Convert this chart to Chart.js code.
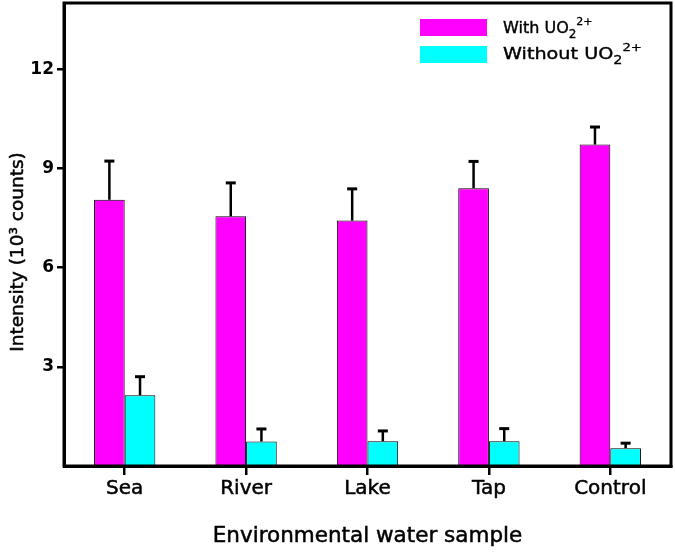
<!DOCTYPE html>
<html><head><meta charset="utf-8">
<script src="https://cdn.jsdelivr.net/npm/chart.js@4"></script>
<style>html,body{margin:0;padding:0;background:#fff}#wrap{width:675px;height:552px}</style>
</head><body><div id="wrap"><canvas id="c" width="675" height="552"></canvas></div>
<script>
const categories = ['Sea', 'River', 'Lake', 'Tap', 'Control'];
const withUO2 = [8.05, 7.55, 7.42, 8.40, 9.72];
const withUO2Err = [1.17, 1.01, 0.96, 0.81, 0.53];
const withoutUO2 = [2.14, 0.74, 0.75, 0.75, 0.54];
const withoutUO2Err = [0.56, 0.38, 0.31, 0.38, 0.15];
const yTicks = [3, 6, 9, 12];
const yTitle = 'Intensity (10\u00B3 counts)';
const xTitle = 'Environmental water sample';
const legendLabels = ['With UO', 'Without UO'];

const FONT = "'DejaVu Sans', sans-serif";

const errorBars = {
  id: 'errorBars',
  afterDatasetsDraw(chart) {
    const ctx = chart.ctx;
    const ys = chart.scales.y;
    const errs = [withUO2Err, withoutUO2Err];
    ctx.save();
    ctx.strokeStyle = '#000';
    chart.data.datasets.forEach((ds, di) => {
      const meta = chart.getDatasetMeta(di);
      meta.data.forEach((el, i) => {
        const top = ys.getPixelForValue(ds.data[i] + errs[di][i]);
        ctx.lineWidth = 2.5;
        ctx.beginPath();
        ctx.moveTo(el.x, el.y);
        ctx.lineTo(el.x, top);
        ctx.stroke();
        ctx.lineWidth = 3;
        ctx.beginPath();
        ctx.moveTo(el.x - 5, top);
        ctx.lineTo(el.x + 5, top);
        ctx.stroke();
      });
    });
    ctx.restore();
  }
};

function heavyText(ctx, txt, x, y, w) {
  ctx.lineWidth = w;
  ctx.strokeText(txt, x, y);
  ctx.fillText(txt, x, y);
}

const frameAndText = {
  id: 'frameAndText',
  afterDraw(chart) {
    const ctx = chart.ctx;
    const a = chart.chartArea;
    ctx.save();
    ctx.strokeStyle = '#000';
    ctx.lineWidth = 3;
    ctx.strokeRect(a.left, a.top, a.right - a.left, a.bottom - a.top);

    ctx.fillStyle = '#000';
    ctx.textAlign = 'center';
    ctx.textBaseline = 'middle';
    // x title
    ctx.font = "21.5px " + FONT;
    heavyText(ctx, xTitle, (a.left + a.right) / 2, 536, 0.5);
    // y title
    ctx.font = "18.5px " + FONT;
    ctx.translate(18, 252);
    ctx.rotate(-Math.PI / 2);
    heavyText(ctx, yTitle, 0, 0, 0.5);
    ctx.restore();

    // legend
    const items = [
      {label: legendLabels[0], color: '#FF00FF', y: 19, base: 33.3, sx: 1.0},
      {label: legendLabels[1], color: '#00FFFF', y: 46, base: 58.7, sx: 1.2}
    ];
    items.forEach(it => {
      ctx.save();
      ctx.fillStyle = it.color;
      ctx.fillRect(420, it.y, 67, 17);
      ctx.fillStyle = '#000';
      ctx.strokeStyle = '#000';
      ctx.textAlign = 'left';
      ctx.textBaseline = 'alphabetic';
      ctx.translate(503, 0);
      ctx.scale(it.sx, 1);
      ctx.font = "16px " + FONT;
      let x = 0;
      heavyText(ctx, it.label, x, it.base, 0.4);
      x += ctx.measureText(it.label).width;
      ctx.font = "12px " + FONT;
      heavyText(ctx, '2', x, it.base + 5, 0.3);
      x += ctx.measureText('2').width;
      ctx.font = "11px " + FONT;
      heavyText(ctx, '2+', x, it.base - 8, 0.3);
      ctx.restore();
    });
  }
};

new Chart(document.getElementById('c'), {
  type: 'bar',
  data: {
    labels: categories,
    datasets: [
      {label: 'With UO2 2+', data: withUO2, backgroundColor: '#FF00FF', borderColor: '#000', borderWidth: 1,
       categoryPercentage: 0.505, barPercentage: 1.0},
      {label: 'Without UO2 2+', data: withoutUO2, backgroundColor: '#00FFFF', borderColor: '#000', borderWidth: 1,
       categoryPercentage: 0.505, barPercentage: 1.0}
    ]
  },
  options: {
    responsive: false,
    animation: false,
    devicePixelRatio: 1,
    layout: {padding: {top: 3, right: 4, left: 0, bottom: 0}},
    plugins: {legend: {display: false}, tooltip: {enabled: false}},
    scales: {
      x: {
        offset: true,
        grid: {offset: false, drawOnChartArea: false, drawTicks: true, tickLength: 9, color: '#000', lineWidth: 2.5},
        border: {display: true, color: '#000', width: 3},
        ticks: {color: '#000', font: {family: FONT, size: 20}, padding: 2, maxRotation: 0,
                textStrokeColor: '#000', textStrokeWidth: 0.5},
        title: {display: false},
        afterFit(s) { s.height = 86; s.paddingLeft = 0; s.paddingRight = 0; }
      },
      y: {
        min: 0, max: 14,
        afterBuildTicks(s) { s.ticks = yTicks.map(v => ({value: v})); },
        grid: {drawOnChartArea: false, drawTicks: true, tickLength: 7, color: '#000', lineWidth: 2.5},
        border: {display: true, color: '#000', width: 3},
        ticks: {color: '#000', font: {family: FONT, size: 17, weight: 'bold'}, padding: 3},
        afterFit(s) { s.width = 64; s.paddingTop = 0; s.paddingBottom = 0; }
      }
    }
  },
  plugins: [errorBars, frameAndText]
});
</script>
</body></html>
